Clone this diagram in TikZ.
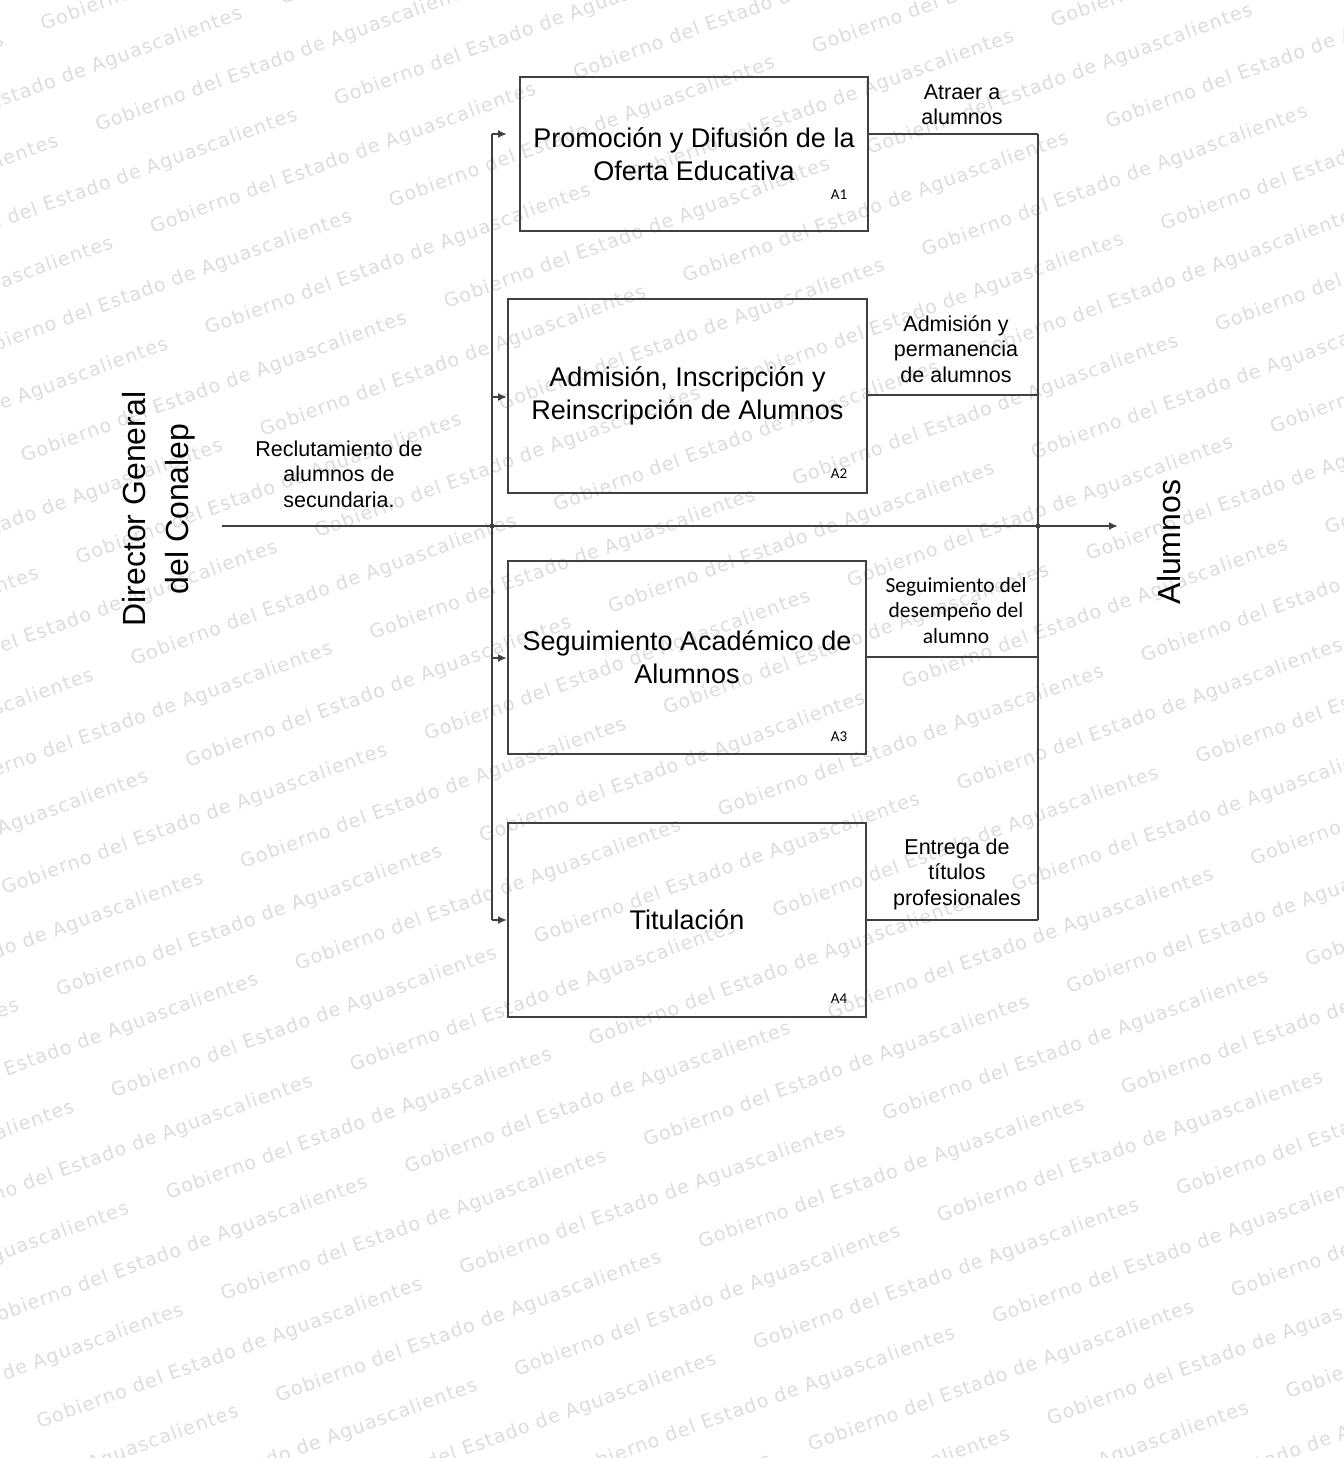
\documentclass[tikz,border=0pt]{standalone}
\usepackage{fontspec}
\setmainfont{Liberation Sans}
\newfontfamily\calfont{Carlito}
\newfontfamily\wmfont[LetterSpace=6]{DejaVu Sans}
\usetikzlibrary{arrows.meta}
\definecolor{ln}{HTML}{404040}
\definecolor{wmc}{HTML}{DCDCDC}
\newcommand{\wmphrase}{\makebox[450pt][l]{Gobierno del Estado de Aguascalientes}}
\begin{document}
\begin{tikzpicture}[x=1pt,y=-1pt,
  proc/.style={draw=ln,line width=2pt,rectangle,inner sep=0pt,align=center,
    font=\fontsize{27}{33}\selectfont},
  wire/.style={draw=ln,line width=2pt},
  arr/.style={wire,-{Latex[length=9pt,width=8pt]}},
  lbl/.style={align=center,anchor=base,inner sep=0pt,font=\fontsize{21.5}{25.5}\selectfont},
  lblc/.style={align=center,anchor=base,inner sep=0pt,font=\calfont\fontsize{21.5}{25.5}\selectfont},
  tag/.style={anchor=base,inner sep=0pt,font=\calfont\fontsize{15}{15}\selectfont},
  side/.style={align=center,anchor=base,inner sep=0pt,rotate=90,font=\fontsize{32}{43}\selectfont},
  wmtext/.style={anchor=base west,inner sep=0pt,rotate=20,text=wmc,font=\wmfont\fontsize{19}{19}\selectfont}]
\useasboundingbox (0,0) rectangle (1343,1458);
% watermark
\begin{scope}
\clip (0,0) rectangle (1343,1458);
\foreach \k in {-2,...,31}{
  \pgfmathsetmacro\vv{100.6+\k*57.06}
  \pgfmathsetmacro\uu{mod(-186.5+\k*233.4+4500,450)-1350}
  \pgfmathsetmacro\px{\uu*cos(20)+\vv*sin(20)}
  \pgfmathsetmacro\py{-\uu*sin(20)+\vv*cos(20)}
  \node[wmtext] (wm\k) at (\px,\py) {\wmphrase\wmphrase\wmphrase\wmphrase\wmphrase\wmphrase\wmphrase};
}
\end{scope}
% boxes
\node[proc,minimum width=348pt,minimum height=154pt] (a1) at (694,154) {Promoción y Difusión de la\\Oferta Educativa};
\node[proc,minimum width=359pt,minimum height=194pt] (a2) at (687.5,396) {Admisión, Inscripción y\\Reinscripción de Alumnos};
\node[proc,minimum width=358pt,minimum height=193pt] (a3) at (687,657.5) {Seguimiento Académico de\\Alumnos};
\node[proc,minimum width=358pt,minimum height=194pt] (a4) at (687,920) {Titulación};
\node[tag] (t1) at (839,200) {A1};
\node[tag] (t2) at (839,478) {A2};
\node[tag] (t3) at (839,741) {A3};
\node[tag] (t4) at (839,1003) {A4};
% labels (anchor base = last line baseline)
\node[lbl] (o1) at (962,125) {Atraer a\\alumnos};
\node[lbl] (o2) at (956,382) {Admisión y\\permanencia\\de alumnos};
\node[lblc] (o3) at (956,643) {Seguimiento del\\desempeño del\\alumno};
\node[lbl] (o4) at (957,905) {Entrega de\\títulos\\profesionales};
\node[lbl] (rec) at (339,507) {Reclutamiento de\\alumnos de\\secundaria.};
\node[side] (dir) at (188,509) {Director General\\del Conalep};
\node[side] (alu) at (1180,542) {Alumnos};
% coordinates
\coordinate (l1) at (492,134);
\coordinate (l2) at (492,397);
\coordinate (l3) at (492,658);
\coordinate (l4) at (492,920);
\coordinate (r1) at (1038,134);
\coordinate (r2) at (1038,395);
\coordinate (r3) at (1038,657);
\coordinate (r4) at (1038,920);
\coordinate (src) at (222,526);
\coordinate (dst) at (1118,526);
\coordinate (j1) at (492,526);
\coordinate (j2) at (1038,526);
% connectors
\draw[wire] (l1) -- (l4);
\draw[arr,shorten >=12pt] (l1) -- (l1 -| a1.west);
\draw[arr] (l2) -- (l2 -| a2.west);
\draw[arr] (l3) -- (l3 -| a3.west);
\draw[arr] (l4) -- (l4 -| a4.west);
\draw[wire] (r1) -- (r4);
\draw[wire] (a1.east |- r1) -- (r1);
\draw[wire] (a2.east |- r2) -- (r2);
\draw[wire] (a3.east |- r3) -- (r3);
\draw[wire] (a4.east |- r4) -- (r4);
\draw[arr] (src) -- (dst);
\fill[ln] (j1) circle (2.5pt);
\fill[ln] (j2) circle (2.5pt);
\end{tikzpicture}
\end{document}
